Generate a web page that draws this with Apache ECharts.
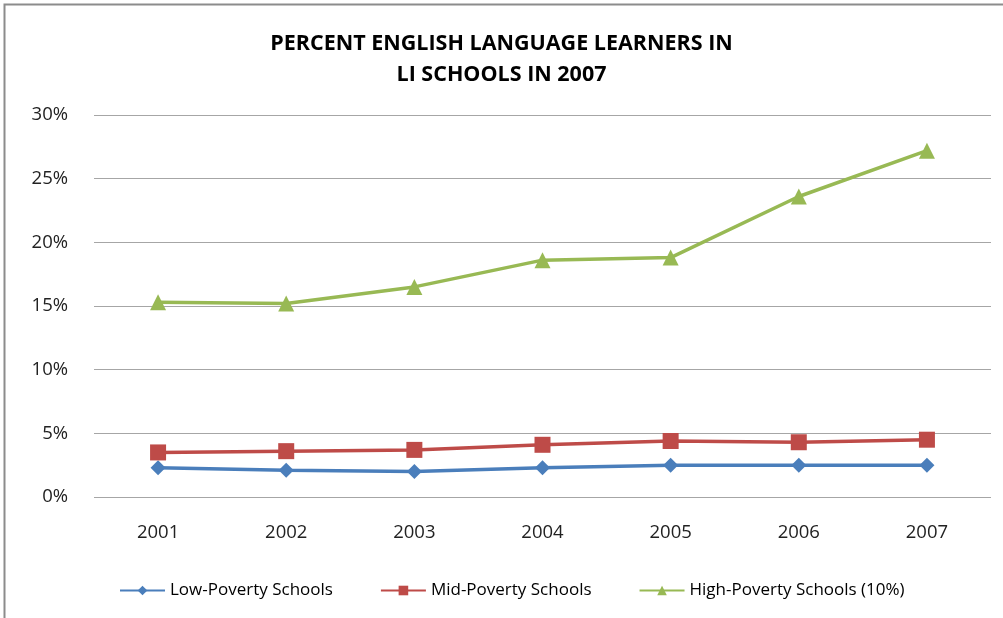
<!DOCTYPE html>
<html>
<head>
<meta charset="utf-8">
<script src="https://cdn.jsdelivr.net/npm/echarts@6/dist/echarts.min.js"></script>
<style>
  html, body { margin: 0; padding: 0; background: #fff; }
  #chart { width: 1003px; height: 618px; }
</style>
</head>
<body>
<div id="chart"></div>
<script>
// School years on the x axis
const years = ['2001', '2002', '2003', '2004', '2005', '2006', '2007'];
// Percent of students who are English language learners
const lowPoverty = [2.3, 2.1, 2.0, 2.3, 2.5, 2.5, 2.5];
const midPoverty = [3.5, 3.6, 3.7, 4.1, 4.4, 4.3, 4.5];
const highPoverty = [15.3, 15.2, 16.5, 18.6, 18.8, 23.6, 27.2];
const seriesNames = ['Low-Poverty Schools', 'Mid-Poverty Schools', 'High-Poverty Schools (10%)'];
const titleText = 'PERCENT ENGLISH LANGUAGE LEARNERS IN\nLI SCHOOLS IN 2007';

const font = '"Open Sans", "DejaVu Sans", sans-serif';
const colors = ['#4A7EBB', '#BE4B48', '#98B954'];

const chart = echarts.init(document.getElementById('chart'), null, { renderer: 'canvas' });

function lineSeries(name, data, color, symbol, size) {
  return {
    name: name,
    type: 'line',
    data: data,
    symbol: symbol,
    symbolSize: size,
    showAllSymbol: true,
    lineStyle: { color: color, width: 3.5 },
    itemStyle: { color: color },
    emphasis: { disabled: true },
    animation: false
  };
}

chart.setOption({
  backgroundColor: '#ffffff',
  animation: false,
  graphic: [{
    type: 'rect',
    shape: { x: 4.5, y: 4.5, width: 1010, height: 620 },
    style: { fill: 'none', stroke: '#8c8c8c', lineWidth: 2 },
    silent: true
  }],
  title: {
    text: titleText,
    left: 'center',
    top: 23,
    textStyle: {
      fontFamily: font,
      fontSize: 21.5,
      fontWeight: 'bold',
      color: '#000',
      lineHeight: 31
    }
  },
  legend: {
    top: 577,
    left: 114,
    itemGap: 47,
    itemWidth: 45,
    itemHeight: 12,
    textStyle: { fontFamily: font, fontSize: 17, color: '#000' },
    data: seriesNames
  },
  grid: {
    left: 94,
    right: 12,
    top: 115,
    bottom: 121,
    containLabel: false
  },
  xAxis: {
    type: 'category',
    data: years,
    boundaryGap: true,
    axisLine: { show: false },
    axisTick: { show: false },
    axisLabel: {
      fontFamily: font,
      fontSize: 18.5,
      color: '#222',
      margin: 26
    }
  },
  yAxis: {
    type: 'value',
    min: 0,
    max: 30,
    interval: 5,
    axisLine: { show: false },
    axisTick: { show: false },
    axisLabel: {
      fontFamily: font,
      fontSize: 18.5,
      color: '#222',
      margin: 26,
      formatter: '{value}%'
    },
    splitLine: { lineStyle: { color: '#a6a6a6', width: 1.2 } }
  },
  series: [
    lineSeries(seriesNames[0], lowPoverty, colors[0], 'diamond', 15),
    lineSeries(seriesNames[1], midPoverty, colors[1], 'rect', 16),
    lineSeries(seriesNames[2], highPoverty, colors[2], 'triangle', 16)
  ]
});
</script>
</body>
</html>
